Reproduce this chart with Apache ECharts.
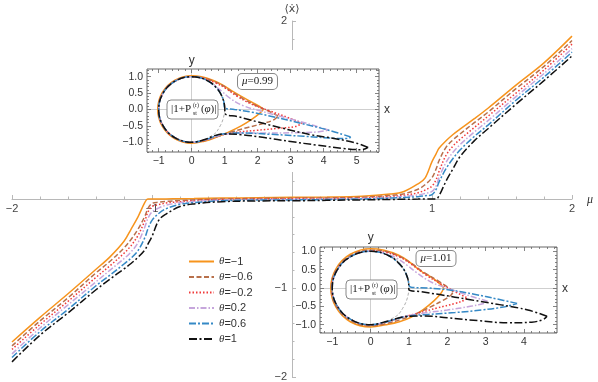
<!DOCTYPE html>
<html><head><meta charset="utf-8">
<script src="https://cdn.jsdelivr.net/npm/echarts@6/dist/echarts.min.js"></script>
<style>html,body{margin:0;padding:0;background:#fff}#c{width:598px;height:382px}</style>
</head><body><div id="c"></div>
<script>
// ---------- data ----------
const thetaNames = ['θ=−1','θ=−0.6','θ=−0.2','θ=0.2','θ=0.6','θ=1'];
const mu = [-2,-1.8,-1.6,-1.4,-1.3,-1.2,-1.15,-1.1,-1.05,-1.03,-1.0,-0.95,-0.9,-0.8,-0.7,-0.5,-0.25,0,0.25,0.5,0.7,0.8,0.9,0.95,1.0,1.03,1.05,1.1,1.15,1.2,1.3,1.4,1.6,1.8,2.0];
const v_m1  = [-1.607,-1.33,-1.065,-0.79,-0.65,-0.475,-0.34,-0.2,-0.035,0.0,0.0,0.0,0.001,0.003,0.005,0.01,0.015,0.02,0.022,0.03,0.055,0.085,0.17,0.235,0.42,0.51,0.57,0.655,0.725,0.785,0.90,1.02,1.28,1.53,1.83];
const v_m06 = [-1.65,-1.37,-1.11,-0.83,-0.70,-0.55,-0.455,-0.34,-0.19,-0.11,-0.05,-0.036,-0.026,-0.018,-0.01,0.0,0.006,0.01,0.012,0.02,0.04,0.06,0.11,0.16,0.24,0.34,0.43,0.58,0.665,0.73,0.855,0.975,1.24,1.49,1.78];
const v_m02 = [-1.69,-1.41,-1.15,-0.88,-0.75,-0.61,-0.525,-0.41,-0.24,-0.15,-0.085,-0.062,-0.045,-0.03,-0.018,-0.006,0.0,0.004,0.006,0.012,0.028,0.042,0.07,0.10,0.145,0.22,0.31,0.49,0.595,0.67,0.80,0.93,1.19,1.45,1.74];
const v_p02 = [-1.74,-1.45,-1.19,-0.93,-0.80,-0.67,-0.595,-0.49,-0.31,-0.22,-0.145,-0.10,-0.07,-0.042,-0.028,-0.012,-0.006,-0.004,0.0,0.006,0.018,0.03,0.045,0.062,0.085,0.15,0.24,0.41,0.525,0.61,0.75,0.88,1.15,1.41,1.69];
const v_p06 = [-1.78,-1.49,-1.24,-0.975,-0.855,-0.73,-0.665,-0.58,-0.43,-0.34,-0.24,-0.16,-0.11,-0.06,-0.04,-0.02,-0.012,-0.01,-0.006,0.0,0.01,0.018,0.026,0.036,0.05,0.11,0.19,0.34,0.455,0.55,0.70,0.83,1.11,1.37,1.65];
const v_p1  = [-1.83,-1.53,-1.28,-1.02,-0.90,-0.785,-0.725,-0.655,-0.57,-0.51,-0.42,-0.235,-0.17,-0.085,-0.055,-0.03,-0.022,-0.02,-0.015,-0.01,-0.005,-0.003,-0.001,0.0,0.0,0.0,0.035,0.2,0.34,0.475,0.65,0.79,1.065,1.33,1.607];

// inset mu = 0.99 (closed loops, [x, y])
const u_m1  = [[2.17,0],[2.06,0.09],[1.86,0.2],[1.56,0.37],[1.22,0.57],[0.92,0.76],[0.62,0.9],[0.3,1.0],[0,1.03],[-0.52,0.89],[-0.89,0.52],[-1.03,0],[-0.89,-0.52],[-0.52,-0.89],[0,-1.03],[0.38,-0.97],[0.72,-0.86],[1.1,-0.7],[1.5,-0.5],[1.82,-0.3],[2.06,-0.12],[2.17,0]];
const u_m06 = [[2.62,-0.2],[2.35,-0.06],[1.95,0.12],[1.55,0.33],[1.2,0.55],[0.92,0.74],[0.62,0.88],[0.3,0.97],[0,1.01],[-0.51,0.87],[-0.87,0.51],[-1.01,0],[-0.87,-0.51],[-0.51,-0.87],[0,-1.01],[0.4,-0.95],[0.78,-0.83],[1.2,-0.69],[1.7,-0.55],[2.2,-0.42],[2.5,-0.31],[2.62,-0.2]];
const u_m02 = [[3.35,-0.42],[2.9,-0.24],[2.35,-0.04],[1.8,0.17],[1.35,0.42],[1.02,0.65],[0.7,0.82],[0.35,0.95],[0,1],[-0.5,0.866],[-0.866,0.5],[-1,0],[-0.866,-0.5],[-0.5,-0.866],[0,-1],[0.42,-0.93],[0.85,-0.79],[1.35,-0.7],[1.95,-0.64],[2.6,-0.58],[3.15,-0.52],[3.35,-0.42]];
const u_p02 = [[4.15,-0.63],[3.5,-0.43],[2.8,-0.24],[2.1,-0.05],[1.55,0.12],[1.15,0.35],[0.92,0.55],[0.7,0.72],[0.4,0.92],[0,1],[-0.5,0.866],[-0.866,0.5],[-1,0],[-0.866,-0.5],[-0.5,-0.866],[0,-1],[0.45,-0.92],[0.9,-0.78],[1.5,-0.72],[2.3,-0.72],[3.1,-0.71],[3.8,-0.69],[4.15,-0.63]];
const u_p06 = [[4.82,-0.84],[4.1,-0.62],[3.3,-0.42],[2.5,-0.23],[1.8,-0.08],[1.3,0.0],[1.0,0.05],[0.97,0.26],[0.87,0.5],[0.7,0.71],[0.4,0.92],[0,1],[-0.5,0.866],[-0.866,0.5],[-1,0],[-0.866,-0.5],[-0.5,-0.866],[0,-1],[0.45,-0.91],[0.9,-0.76],[1.5,-0.72],[2.4,-0.76],[3.4,-0.82],[4.3,-0.88],[4.75,-0.89],[4.82,-0.84]];
const u_p1  = [[5.35,-1.16],[5.0,-1.03],[4.4,-0.9],[3.6,-0.77],[2.7,-0.56],[2.0,-0.38],[1.4,-0.22],[1.01,-0.12],[1.0,0.1],[0.94,0.34],[0.8,0.6],[0.5,0.866],[0,1],[-0.5,0.866],[-0.866,0.5],[-1,0],[-0.866,-0.5],[-0.5,-0.866],[0,-1],[0.4,-0.92],[0.7,-0.8],[1.0,-0.75],[1.5,-0.77],[2.2,-0.86],[3.0,-0.98],[3.8,-1.09],[4.6,-1.19],[5.15,-1.23],[5.35,-1.16]];
// inset mu = 1.01
const l_m1  = [[1.91,0],[1.8,0.12],[1.6,0.28],[1.3,0.47],[1.0,0.72],[0.72,0.9],[0.35,1.03],[0,1.07],[-0.53,0.92],[-0.9,0.53],[-1.04,0],[-0.9,-0.53],[-0.53,-0.92],[0,-1.06],[0.4,-1.0],[0.75,-0.92],[1.05,-0.8],[1.38,-0.58],[1.65,-0.35],[1.83,-0.15],[1.91,0]];
const l_m06 = [[2.15,-0.1],[2.0,0.03],[1.75,0.2],[1.4,0.42],[1.05,0.68],[0.75,0.86],[0.37,1.0],[0,1.03],[-0.51,0.89],[-0.89,0.51],[-1.02,0],[-0.89,-0.51],[-0.51,-0.89],[0,-1.03],[0.4,-0.97],[0.78,-0.86],[1.15,-0.72],[1.55,-0.52],[1.9,-0.33],[2.1,-0.19],[2.15,-0.1]];
const l_m02 = [[2.5,-0.26],[2.2,-0.1],[1.85,0.1],[1.45,0.35],[1.1,0.62],[0.78,0.83],[0.4,0.97],[0,1.01],[-0.5,0.87],[-0.87,0.5],[-1.01,0],[-0.87,-0.5],[-0.5,-0.87],[0,-1.01],[0.42,-0.93],[0.82,-0.8],[1.25,-0.68],[1.75,-0.54],[2.2,-0.42],[2.45,-0.33],[2.5,-0.26]];
const l_p02 = [[3.05,-0.36],[2.6,-0.22],[2.1,-0.04],[1.6,0.15],[1.2,0.42],[0.95,0.62],[0.7,0.8],[0.4,0.93],[0,1],[-0.5,0.866],[-0.866,0.5],[-1,0],[-0.866,-0.5],[-0.5,-0.866],[0,-1],[0.45,-0.91],[0.9,-0.77],[1.4,-0.68],[2.0,-0.6],[2.6,-0.5],[2.95,-0.42],[3.05,-0.36]];
const l_p06 = [[3.82,-0.42],[3.3,-0.3],[2.7,-0.17],[2.1,-0.06],[1.5,0.0],[1.05,0.02],[0.97,0.26],[0.87,0.5],[0.7,0.71],[0.4,0.92],[0,1],[-0.5,0.866],[-0.866,0.5],[-1,0],[-0.866,-0.5],[-0.5,-0.866],[0,-1],[0.45,-0.91],[0.9,-0.78],[1.5,-0.72],[2.2,-0.67],[2.9,-0.6],[3.5,-0.51],[3.82,-0.42]];
const l_p1  = [[4.6,-0.77],[4.1,-0.6],[3.4,-0.46],[2.6,-0.32],[1.8,-0.18],[1.3,-0.1],[1.0,-0.05],[0.99,0.15],[0.93,0.37],[0.8,0.6],[0.5,0.866],[0,1],[-0.5,0.866],[-0.866,0.5],[-1,0],[-0.866,-0.5],[-0.5,-0.866],[0,-1],[0.45,-0.9],[0.9,-0.78],[1.4,-0.76],[2.0,-0.81],[2.8,-0.89],[3.6,-0.95],[4.2,-0.93],[4.5,-0.86],[4.6,-0.77]];
const unitCircle = [[1,0],[0.866,0.5],[0.5,0.866],[0,1],[-0.5,0.866],[-0.866,0.5],[-1,0],[-0.866,-0.5],[-0.5,-0.866],[0,-1],[0.5,-0.866],[0.866,-0.5],[1,0]];

const mainXTicks = [-2,-1,0,1,2];
const mainYTicks = [-2,-1,0,1,2];
const upXTicks = [-1,0,1,2,3,4,5];
const loXTicks = [-1,0,1,2,3,4];
const insetYTicks = [-1,-0.5,0,0.5,1];

// ---------- styles ----------
const colors = ['#f7941d','#b8704b','#f03a3a','#c6a6dc','#3589c6','#111111'];
const dashes = ['solid',[5,2.5],[1.5,2],[6,2,1.5,2],[7,2,2,2],[8,2.5,2,2.5]];
const mainVals = [v_m1,v_m06,v_m02,v_p02,v_p06,v_p1];
const upLoops = [u_m1,u_m06,u_m02,u_p02,u_p06,u_p1];
const loLoops = [l_m1,l_m06,l_m02,l_p02,l_p06,l_p1];
const minus = s => String(s).replace('-', '−');
const axCol = '#b8b8b8';
const frameCol = '#666';

function range(a, b, step) { const r = []; for (let v = a; v <= b + 1e-9; v += step) r.push(Math.round(v*1000)/1000); return r; }

function insetAxes(gi, xmin, xmax, ymin, ymax, xMaj) {
  const xMinor = range(Math.ceil(xmin*5)/5, xmax, 0.2).filter(v => !xMaj.some(m => Math.abs(m-v) < 1e-6));
  const yMinor = range(Math.ceil(ymin*10)/10, ymax, 0.1).filter(v => !insetYTicks.some(m => Math.abs(m-v) < 1e-6));
  const baseX = {type:'value', gridIndex:gi, min:xmin, max:xmax, z:4, axisLine:{show:false,onZero:false}, splitLine:{show:false}};
  const baseY = {type:'value', gridIndex:gi, min:ymin, max:ymax, z:4, axisLine:{show:false,onZero:false}, splitLine:{show:false}};
  const tick = (vals, len) => ({show:true, inside:true, length:len, customValues:vals, lineStyle:{color:frameCol, width:0.8}});
  const xs = [
    Object.assign({}, baseX, {position:'bottom', axisTick:tick(xMaj,4), axisLabel:{customValues:xMaj, formatter:v=>minus(v), color:'#333', fontSize:10.5, margin:4, fontFamily:'Liberation Sans'}}),
    Object.assign({}, baseX, {position:'bottom', axisTick:tick(xMinor,2), axisLabel:{show:false}}),
    Object.assign({}, baseX, {position:'top', axisTick:tick(xMaj,4), axisLabel:{show:false}}),
    Object.assign({}, baseX, {position:'top', axisTick:tick(xMinor,2), axisLabel:{show:false}})
  ];
  const ys = [
    Object.assign({}, baseY, {position:'left', axisTick:tick(insetYTicks,4), axisLabel:{customValues:insetYTicks, formatter:v=>minus(v.toFixed(1)), color:'#333', fontSize:10.5, margin:4, fontFamily:'Liberation Sans'}}),
    Object.assign({}, baseY, {position:'left', axisTick:tick(yMinor,2), axisLabel:{show:false}}),
    Object.assign({}, baseY, {position:'right', axisTick:tick(insetYTicks,4), axisLabel:{show:false}}),
    Object.assign({}, baseY, {position:'right', axisTick:tick(yMinor,2), axisLabel:{show:false}})
  ];
  return {xs, ys};
}

const up = insetAxes(1, -1.355, 5.68, -1.3, 1.235, upXTicks);
const lo = insetAxes(2, -1.32, 4.86, -1.226, 1.117, loXTicks);

const xAxes = [{
  type:'value', gridIndex:0, min:-2, max:2, interval:1, z:0, position:'bottom', offset:-178,
  axisLine:{onZero:false, lineStyle:{color:axCol, width:1}},
  axisTick:{inside:true, length:4, lineStyle:{color:axCol}},
  minorTick:{show:true, splitNumber:5, length:2.5, lineStyle:{color:axCol}},
  splitLine:{show:false},
  axisLabel:{customValues:mainXTicks.filter(v=>v!==0), formatter:v=>minus(v), color:'#444', fontSize:11, margin:4, fontFamily:'Liberation Sans'}
}].concat(up.xs, lo.xs);
const yAxes = [{
  type:'value', gridIndex:0, min:-2, max:2, interval:1, z:0, position:'left', offset:-280,
  axisLine:{onZero:false, lineStyle:{color:axCol, width:1}},
  axisTick:{inside:true, length:4, lineStyle:{color:axCol}},
  minorTick:{show:true, splitNumber:5, length:2.5, lineStyle:{color:axCol}},
  splitLine:{show:false},
  axisLabel:{customValues:mainYTicks.filter(v=>v!==0), formatter:v=>minus(v), color:'#444', fontSize:11, margin:5, fontFamily:'Liberation Sans'},
  name:'⟨ẋ⟩', nameLocation:'end', nameGap:6, nameMoveOverlap:false, nameTextStyle:{fontSize:11, color:'#444', fontFamily:'DejaVu Sans'}
}].concat(up.ys, lo.ys);

const series = [];
mainVals.forEach((vals, i) => {
  series.push({type:'line', name:thetaNames[i], xAxisIndex:0, yAxisIndex:0, data:mu.map((m,k)=>[m, vals[k]]),
    symbol:'none', smooth:0.35, lineStyle:{color:colors[i], width:1.5, type:dashes[i]}, itemStyle:{color:colors[i]}, z:2});
});
// gray reference circles with zero lines
[1,5].forEach(ai => {
  series.push({type:'line', name:'ref'+ai, xAxisIndex:ai, yAxisIndex:ai, data:unitCircle, symbol:'none', smooth:0.55,
    lineStyle:{color:'#999', width:0.8, type:[3,2]}, z:5, silent:true,
    markLine:{silent:true, symbol:'none', label:{show:false}, lineStyle:{color:'#cfcfcf', width:1, type:'solid'}, data:[{xAxis:0},{yAxis:0}], z:4}});
});
upLoops.forEach((d, i) => {
  series.push({type:'line', name:thetaNames[i], xAxisIndex:1, yAxisIndex:1, data:d, symbol:'none', smooth:0.4,
    lineStyle:{color:colors[i], width:1.5, type:dashes[i]}, itemStyle:{color:colors[i]}, z:6});
});
loLoops.forEach((d, i) => {
  series.push({type:'line', name:thetaNames[i], xAxisIndex:5, yAxisIndex:5, data:d, symbol:'none', smooth:0.4,
    lineStyle:{color:colors[i], width:1.5, type:dashes[i]}, itemStyle:{color:colors[i]}, z:6});
});

const serif = 'Liberation Serif';
function pBox(x, y) {
  return {type:'group', x:x, y:y, z:20, children:[
    {type:'rect', shape:{x:0,y:0,width:51,height:19,r:4}, style:{fill:'#fff', stroke:'#888', lineWidth:1}, z:20},
    {type:'text', x:4, y:9.5, z:21, style:{text:'|1+P', font:'11px '+serif, fill:'#222', verticalAlign:'middle'}},
    {type:'text', x:26, y:5, z:21, style:{text:'(r)', font:'6px '+serif, fill:'#222', verticalAlign:'middle'}},
    {type:'text', x:26, y:13, z:21, style:{text:'st', font:'6px '+serif, fill:'#222', verticalAlign:'middle'}},
    {type:'text', x:34, y:9.5, z:21, style:{text:'(', font:'11px '+serif, fill:'#222', verticalAlign:'middle'}},
    {type:'text', x:37.5, y:9.5, z:21, style:{text:'φ', font:'italic 11px '+serif, fill:'#222', verticalAlign:'middle'}},
    {type:'text', x:43.5, y:9.5, z:21, style:{text:')|', font:'11px '+serif, fill:'#222', verticalAlign:'middle'}}
  ]};
}
function muBox(cx, cy, val) {
  return {type:'text', x:cx, y:cy, z:20, style:{rich:{i:{fontStyle:'italic', fontFamily:serif, fontSize:11, fill:'#222'}, n:{fontFamily:serif, fontSize:11, fill:'#222'}},
    text:'{i|μ}{n|='+val+'}', align:'center', verticalAlign:'middle', backgroundColor:'#fff', borderColor:'#888', borderWidth:1, borderRadius:4, padding:[2,4,2,4]}};
}
function lbl(x, y, t, font) {
  return {type:'text', x:x, y:y, z:20, style:{text:t, font:font || '12px Liberation Sans', fill:'#333', align:'center', verticalAlign:'middle'}};
}

const chart = echarts.init(document.getElementById('c'), null, {renderer:'canvas'});
chart.setOption({
  animation:false,
  backgroundColor:'#fff',
  grid:[
    {left:12, right:26, top:21, bottom:5, z:0, outerBoundsMode:'none', containLabel:false},
    {left:147, top:69, width:232, height:83, show:true, borderColor:frameCol, borderWidth:1, backgroundColor:'#fff', z:3, outerBoundsMode:'none', containLabel:false},
    {left:320, top:247, width:237, height:86, show:true, borderColor:frameCol, borderWidth:1, backgroundColor:'#fff', z:3, outerBoundsMode:'none', containLabel:false}
  ],
  xAxis:xAxes, yAxis:yAxes,
  legend:{data:thetaNames, orient:'vertical', left:183, top:250, itemWidth:25, itemHeight:8, itemGap:2.5,
    itemStyle:{opacity:0},
    textStyle:{fontSize:11, lineHeight:13, color:'#333', fontFamily:'Liberation Sans',
      rich:{i:{fontStyle:'italic', fontSize:11, fontFamily:'Liberation Serif', color:'#333'}, n:{fontSize:11, fontFamily:'Liberation Sans', color:'#333'}}},
    formatter:n=>'{i|θ}{n|'+n.slice(1)+'}'},
  graphic:[
    {type:'rect', z:1, shape:{x:112, y:50, width:284, height:122}, style:{fill:'#fff'}},
    {type:'rect', z:1, shape:{x:296, y:229, width:280, height:120}, style:{fill:'#fff'}},
    lbl(590, 200, 'μ', 'italic 12px Liberation Serif'),
    lbl(191.7, 61, 'y'), lbl(387, 110, 'x'),
    lbl(370.7, 238, 'y'), lbl(565, 289, 'x'),
    muBox(257.5, 81.5, '0.99'), muBox(436, 258.5, '1.01'),
    pBox(167, 100), pBox(346, 280)
  ],
  series:series
});
</script></body></html>
